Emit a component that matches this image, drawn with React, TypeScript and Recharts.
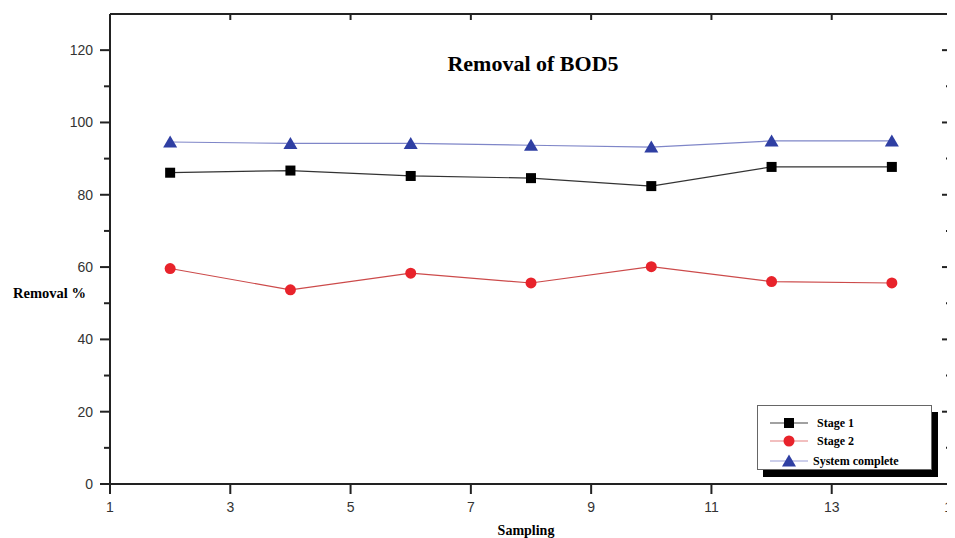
import React from 'react';
import { LineChart, Line, XAxis, YAxis, ReferenceLine, Customized } from 'recharts';

const samplings = [2, 4, 6, 8, 10, 12, 14];
const stage1 = [86.1, 86.7, 85.2, 84.6, 82.4, 87.7, 87.7];
const stage2 = [59.6, 53.7, 58.3, 55.6, 60.1, 56.0, 55.6];
const systemComplete = [94.6, 94.2, 94.2, 93.7, 93.2, 94.9, 94.9];

const xTicks = [1, 3, 5, 7, 9, 11, 13, 15];
const topTicks = [3, 5, 7, 9, 11, 13];
const yTicks = [0, 10, 20, 30, 40, 50, 60, 70, 80, 90, 100, 110, 120];

const data = samplings.map((s, i) => ({
  sampling: s,
  stage1: stage1[i],
  stage2: stage2[i],
  system: systemComplete[i],
}));

const AXIS = '#222';
const SERIF = '"Liberation Serif", "Times New Roman", serif';
const SANS = '"Liberation Sans", Arial, sans-serif';

const SquareDot = ({ cx, cy }: any) => (
  <rect x={cx - 5} y={cy - 5} width={10} height={10} fill="#000" />
);
const CircleDot = ({ cx, cy }: any) => <circle cx={cx} cy={cy} r={5.5} fill="#e8232b" />;
const TriangleDot = ({ cx, cy }: any) => (
  <polygon points={`${cx},${cy - 6.5} ${cx - 7},${cy + 5.5} ${cx + 7},${cy + 5.5}`} fill="#2f3fa3" />
);

const series = [
  { key: 'stage1', name: 'Stage 1', line: '#333', legendLine: '#444', Dot: SquareDot },
  { key: 'stage2', name: 'Stage 2', line: '#cc4a4a', legendLine: '#e58080', Dot: CircleDot },
  { key: 'system', name: 'System complete', line: '#7f86c8', legendLine: '#9aa0d8', Dot: TriangleDot },
];

const LeftTick = ({ x, y, payload }: any) => {
  const major = payload.value % 20 === 0;
  return (
    <g>
      <line x1={x} x2={x - (major ? 10 : 6)} y1={y} y2={y} stroke={AXIS} strokeWidth={2} />
      {major && (
        <text x={x - 17} y={y} textAnchor="end" dominantBaseline="central" fontFamily={SANS} fontSize={14} fill="#333">
          {payload.value}
        </text>
      )}
    </g>
  );
};

const RightTick = ({ x, y, payload }: any) => {
  const major = payload.value % 20 === 0;
  return <line x1={x} x2={x - (major ? 10 : 6)} y1={y} y2={y} stroke={AXIS} strokeWidth={2} />;
};

const BottomTick = ({ x, y, payload }: any) => (
  <g>
    <line x1={x} x2={x} y1={y} y2={y + 10} stroke={AXIS} strokeWidth={2} />
    <text x={x} y={y + 23} textAnchor="middle" dominantBaseline="central" fontFamily={SANS} fontSize={14} fill="#333">
      {payload.value}
    </text>
  </g>
);

const TopTick = ({ x, y }: any) => <line x1={x} x2={x} y1={y} y2={y + 6} stroke={AXIS} strokeWidth={2} />;

const Labels = () => (
  <g fontFamily={SERIF} fontWeight="bold" fill="#000">
    <text x={525} y={63} textAnchor="middle" fontSize={22}>
      Removal of BOD5
    </text>
    <text x={5} y={290} fontSize={14.5}>
      Removal %
    </text>
    <text x={518} y={527} textAnchor="middle" fontSize={14}>
      Sampling
    </text>
  </g>
);

const legendRows = [18, 36, 56];

const ChartLegend = () => (
  <div
    style={{
      position: 'absolute',
      left: 749,
      top: 397,
      width: 175,
      height: 65,
      background: '#fff',
      border: '1px solid #666',
      boxShadow: '6px 7px 0 #000',
      boxSizing: 'border-box',
    }}
  >
    <svg width={175} height={65} style={{ position: 'absolute', left: -1, top: -1 }}>
      {series.map((s, i) => {
        const y = legendRows[i];
        const Dot = s.Dot;
        return (
          <g key={s.key}>
            <line x1={13} x2={51} y1={y} y2={y} stroke={s.legendLine} strokeWidth={1.2} />
            <Dot cx={32} cy={y} />
            <text
              x={i === 2 ? 56 : 60}
              y={y}
              dominantBaseline="central"
              fontFamily={SERIF}
              fontWeight="bold"
              fontSize={12}
              fill="#000"
            >
              {s.name}
            </text>
          </g>
        );
      })}
    </svg>
  </div>
);

export default function App() {
  return (
    <div style={{ position: 'relative', width: 947, height: 530 }}>
      <LineChart width={947} height={530} data={data} margin={{ top: 6, right: 3, left: 0, bottom: 0 }}>
        <XAxis
          dataKey="sampling"
          type="number"
          domain={[1, 15]}
          ticks={xTicks}
          interval={0}
          height={54}
          tickSize={0}
          tickMargin={0}
          tickLine={false}
          tick={<BottomTick />}
          axisLine={{ stroke: AXIS, strokeWidth: 2 }}
        />
        <XAxis
          xAxisId="top"
          orientation="top"
          mirror
          height={1}
          dataKey="sampling"
          type="number"
          domain={[1, 15]}
          ticks={topTicks}
          interval={0}
          tickSize={0}
          tickMargin={0}
          tickLine={false}
          tick={<TopTick />}
          axisLine={{ stroke: AXIS, strokeWidth: 2 }}
        />
        <YAxis
          type="number"
          domain={[0, 130]}
          ticks={yTicks}
          interval={0}
          width={102}
          tickSize={0}
          tickMargin={0}
          tickLine={false}
          tick={<LeftTick />}
          axisLine={{ stroke: AXIS, strokeWidth: 2 }}
        />
        <YAxis
          yAxisId="right"
          orientation="right"
          mirror
          width={1}
          type="number"
          domain={[0, 130]}
          ticks={yTicks}
          interval={0}
          tickSize={0}
          tickMargin={0}
          tickLine={false}
          tick={<RightTick />}
          axisLine={false}
        />
        {/* right edge of the frame */}
        <ReferenceLine x={15} stroke={AXIS} strokeWidth={2} ifOverflow="visible" />
        {/* invisible series so the mirrored frame axes get their scales */}
        <Line
          xAxisId="top"
          yAxisId="right"
          dataKey="stage1"
          stroke="none"
          dot={false}
          activeDot={false}
          legendType="none"
          isAnimationActive={false}
        />
        {series.map((s) => {
          const Dot = s.Dot;
          return (
            <Line
              key={s.key}
              dataKey={s.key}
              name={s.name}
              type="linear"
              stroke={s.line}
              strokeWidth={1.2}
              dot={(p: any) => <Dot key={`${s.key}-${p.index}`} cx={p.cx} cy={p.cy} />}
              activeDot={false}
              isAnimationActive={false}
            />
          );
        })}
        <Customized component={Labels} />
      </LineChart>
      <ChartLegend />
    </div>
  );
}
